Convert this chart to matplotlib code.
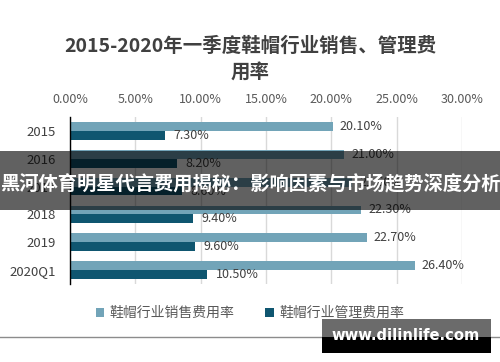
import matplotlib
matplotlib.use("Agg")
import matplotlib.pyplot as plt
from matplotlib.patches import Rectangle, Patch
from matplotlib.lines import Line2D
import numpy as np

plt.rcParams['font.family'] = ['Noto Sans CJK SC', 'DejaVu Sans']

categories = ["2015", "2016", "2017", "2018", "2019", "2020Q1"]
sales_rate = [20.1, 21.0, 21.6, 22.3, 22.7, 26.4]
mgmt_rate = [7.3, 8.2, 8.6, 9.4, 9.6, 10.5]
series_names = ["鞋帽行业销售费用率", "鞋帽行业管理费用率"]
xticks = [0, 5, 10, 15, 20, 25, 30]
title = "2015-2020年一季度鞋帽行业销售、管理费\n用率"
banner = "黑河体育明星代言费用揭秘：影响因素与市场趋势深度分析"
watermark = "www.dilinlife.com"

c_sales = "#72A4B8"
c_mgmt = "#0F5670"
txt = "#595959"

W, H = 500, 362
fig = plt.figure(figsize=(5, 3.62), dpi=100)
ax = fig.add_axes([70 / W, 1 - 284 / H, (462 - 70) / W, (284 - 117) / H])

y = np.arange(len(categories))
h = 0.32
ax.barh(y - h / 2, sales_rate, height=h, color=c_sales, zorder=3)
ax.barh(y + h / 2, mgmt_rate, height=h, color=c_mgmt, zorder=3)

for yi, v in zip(y, sales_rate):
    ax.annotate(f"{v:.2f}%", (v, yi - h / 2), xytext=(5, 0), textcoords="offset points",
                va="center", ha="left", fontsize=9, color="#404040", zorder=4)
for yi, v in zip(y, mgmt_rate):
    ax.annotate(f"{v:.2f}%", (v, yi + h / 2), xytext=(6, 0), textcoords="offset points",
                va="center", ha="left", fontsize=9, color="#404040", zorder=4)

ax.set_xlim(0, 30)
ax.set_ylim(len(categories) - 0.5, -0.5)
ax.set_xticks(xticks)
ax.set_xticklabels([f"{t:.2f}%" for t in xticks])
ax.set_yticks(y)
ax.set_yticklabels(categories)
ax.xaxis.tick_top()
ax.tick_params(axis="x", length=0, pad=8, labelsize=9, labelcolor=txt)
ax.tick_params(axis="y", length=0, pad=10, labelsize=9.5, labelcolor="#404040")
ax.grid(axis="x", color="#D9D9D9", linewidth=1, zorder=0)
ax.set_axisbelow(True)
for s in ["top", "right", "bottom"]:
    ax.spines[s].set_visible(False)
ax.spines["left"].set_color("#000000")
ax.spines["left"].set_linewidth(1)
ax.spines["left"].set_zorder(5)

fig.text(0.5, 1 - 60 / H, title, ha="center", va="center", fontsize=14,
         fontweight="bold", color="#404040", linespacing=1.5)

handles = [Patch(facecolor=c_sales), Patch(facecolor=c_mgmt)]
fig.legend(handles, series_names, loc="center", bbox_to_anchor=(0.5, 1 - 313 / H),
           ncol=2, frameon=False, fontsize=10, labelcolor=txt,
           handlelength=0.6, handleheight=0.6, handletextpad=0.4, columnspacing=2.2)

# bottom border line of the original chart image
fig.add_artist(Line2D([0, 1], [1 - 337 / H, 1 - 337 / H], color="#8C8C8C",
                      linewidth=1, transform=fig.transFigure, zorder=6))

# overlay banner
fig.patches.append(Rectangle((0, 1 - 210 / H), 1, 59 / H, transform=fig.transFigure,
                             facecolor="black", alpha=0.62, edgecolor="none", zorder=10))
fig.text(0.5, 1 - 185 / H, banner, ha="center", va="center", fontsize=13.9,
         fontweight="bold", color="white", zorder=11)

# watermark
fig.patches.append(Rectangle((322 / W, 1 - 337 / H), (491 - 322) / W, 18 / H,
                             transform=fig.transFigure, facecolor="#6B6B6B",
                             edgecolor="none", zorder=12))
fig.patches.append(Rectangle((322 / W, 1 - 353 / H), (491 - 322) / W, 16 / H,
                             transform=fig.transFigure, facecolor="black",
                             edgecolor="none", zorder=12))
fig.text(406 / W, 1 - 336 / H, watermark, ha="center", va="center", fontsize=10.6,
         fontweight="bold", color="white", family="DejaVu Sans", zorder=13)

fig.savefig("out.png", dpi=100, facecolor="white")
